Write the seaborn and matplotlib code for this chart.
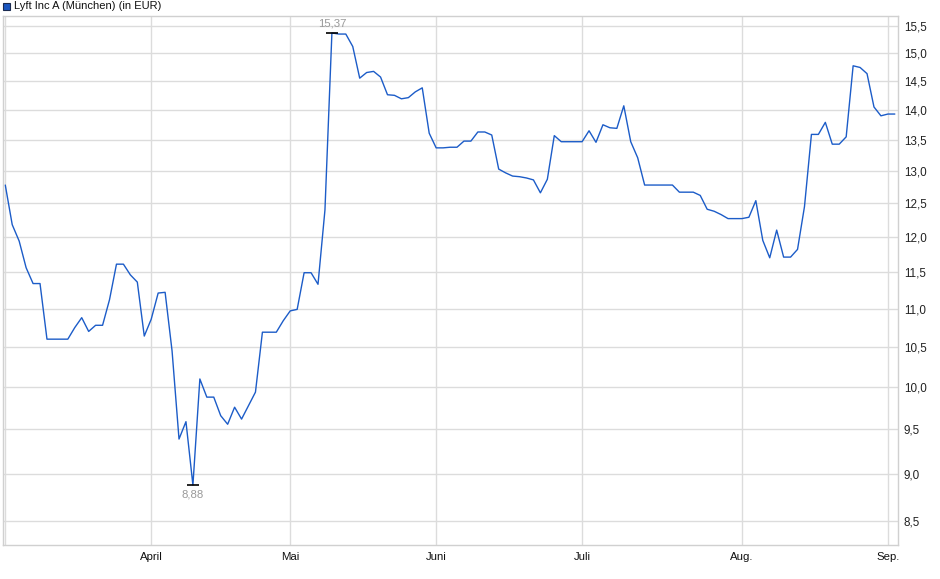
import numpy as np
import pandas as pd
import matplotlib
matplotlib.use('Agg')
import matplotlib.pyplot as plt
from matplotlib.patches import Rectangle
from matplotlib.ticker import FixedLocator, NullLocator, NullFormatter
import seaborn as sns

# Kurse je Handelstag, pro Monat (Maerz bis 2. Sep.)
maerz = [12.78, 12.18, 11.94, 11.56, 11.34, 11.34, 10.60, 10.60, 10.60, 10.60,
         10.75, 10.88, 10.70, 10.78, 10.78, 11.12, 11.61, 11.61, 11.46, 11.36, 10.64]
april = [10.86, 11.21, 11.22, 10.45, 9.39, 9.59, 8.88, 10.10, 9.88, 9.88,
         9.66, 9.56, 9.76, 9.62, 9.78, 9.94, 10.69, 10.69, 10.69, 10.84]
mai = [10.97, 10.99, 11.49, 11.49, 11.33, 12.40, 15.37, 15.35, 15.35, 15.12,
       14.55, 14.65, 14.67, 14.57, 14.26, 14.25, 14.19, 14.21, 14.31, 14.38, 13.61]
juni = [13.37, 13.37, 13.38, 13.38, 13.48, 13.48, 13.63, 13.63, 13.58, 13.03,
        12.97, 12.92, 12.91, 12.89, 12.86, 12.66, 12.87, 13.57, 13.47, 13.47, 13.47]
juli = [13.47, 13.65, 13.46, 13.75, 13.70, 13.69, 14.07, 13.47, 13.21, 12.78,
        12.78, 12.78, 12.78, 12.78, 12.67, 12.67, 12.67, 12.62, 12.41, 12.38,
        12.33, 12.27, 12.27]
august = [12.27, 12.29, 12.54, 11.95, 11.70, 12.10, 11.71, 11.71, 11.82, 12.45,
          13.59, 13.59, 13.79, 13.43, 13.43, 13.55, 14.77, 14.74, 14.63, 14.05, 13.90]
september = [13.93, 13.93]

monate = [maerz, april, mai, juni, juli, august, september]
monat_labels = ['', 'April', 'Mai', 'Juni', 'Juli', 'Aug.', 'Sep.']
y_ticks = [8.5, 9.0, 9.5, 10.0, 10.5, 11.0, 11.5, 12.0, 12.5, 13.0, 13.5, 14.0, 14.5, 15.0, 15.5]

kurse = sum(monate, [])
df = pd.DataFrame({'tag': np.arange(len(kurse)), 'kurs': kurse})
monat_start = np.cumsum([0] + [len(m) for m in monate[:-1]])

sns.set_style('white')
plt.rcParams['font.family'] = ['Liberation Sans', 'DejaVu Sans']

W, H = 940, 579
fig = plt.figure(figsize=(W / 100, H / 100), dpi=100)
ax = fig.add_axes([2.7 / W, (H - 545) / H, (898.3 - 2.7) / W, (545 - 16) / H])

linie = '#1c5cc8'
sns.lineplot(data=df, x='tag', y='kurs', ax=ax, color=linie, linewidth=1.0)

ax.set_yscale('log')
ax.set_ylim(8.257, 15.69)
ax.set_xlim(-0.37, 128.5)

ax.yaxis.set_major_locator(FixedLocator(y_ticks))
ax.yaxis.set_minor_locator(NullLocator())
ax.yaxis.set_minor_formatter(NullFormatter())
ax.set_yticklabels([f'{v:.1f}'.replace('.', ',') for v in y_ticks])
ax.yaxis.tick_right()
ax.set_xticks(monat_start)
ax.set_xticklabels(monat_labels)

ax.grid(True, color='#dcdcdc', linewidth=1.0)
ax.tick_params(axis='x', length=3, color='#dcdcdc', labelsize=8.2, pad=2, labelcolor='#111111')
ax.tick_params(axis='y', length=0, labelsize=8.4, pad=4, labelcolor='#222222')
ax.set_xlabel('')
ax.set_ylabel('')
for s in ax.spines.values():
    s.set_color('#d0d0d0')
    s.set_linewidth(1.0)

# Hoch / Tief markieren
i_max = int(np.argmax(kurse))
i_min = int(np.argmin(kurse))
ax.plot([i_max], [kurse[i_max]], marker='_', color='black', markersize=8, markeredgewidth=1.2)
ax.plot([i_min], [kurse[i_min]], marker='_', color='black', markersize=8, markeredgewidth=1.2)
ax.annotate(f'{kurse[i_max]:.2f}'.replace('.', ','), (i_max, kurse[i_max]),
            xytext=(0, 3), textcoords='offset points', ha='center', va='bottom',
            fontsize=8.2, color='#999999')
ax.annotate(f'{kurse[i_min]:.2f}'.replace('.', ','), (i_min, kurse[i_min]),
            xytext=(0, -3), textcoords='offset points', ha='center', va='top',
            fontsize=8.2, color='#999999')

# Legende oben links
fig.patches.append(Rectangle((2.7 / W, 1 - 9.7 / H), 7 / W, 7 / H, transform=fig.transFigure,
                             facecolor='#1a56c0', edgecolor='#1a2a50', linewidth=0.8))
fig.text(13.5 / W, 1 - 6.3 / H, 'Lyft Inc A (München) (in EUR)', fontsize=8,
         va='center', ha='left', color='#111111')

fig.savefig('out.png', dpi=100)
